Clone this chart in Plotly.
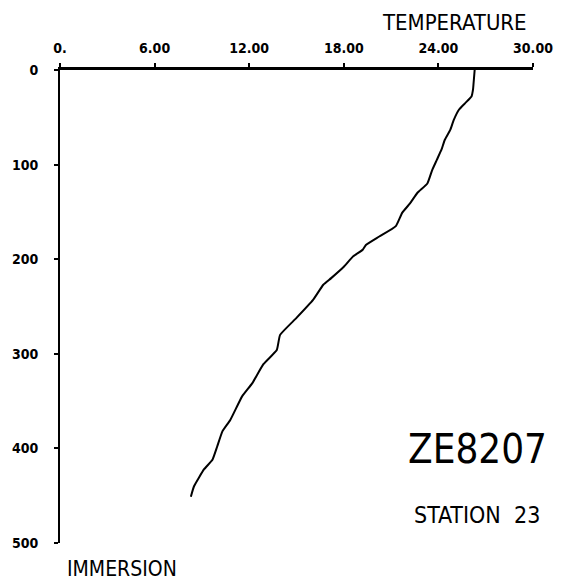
import plotly.graph_objects as go

# Temperature profile, station 23 (cruise ZE8207)
depth = [0, 10, 20, 25, 28, 35, 42, 53, 63, 74, 84, 95, 106, 120, 130, 141, 151,
         165, 176, 185, 190, 197, 208, 220, 227, 243, 262, 280, 296, 311, 331,
         345, 370, 382, 398, 412, 422, 440, 451]
temperature = [26.3, 26.25, 26.2, 26.15, 26.1, 25.7, 25.3, 24.97, 24.76, 24.4,
               24.2, 23.9, 23.6, 23.3, 22.66, 22.2, 21.7, 21.3, 20.25, 19.4, 19.2,
               18.6, 18.0, 17.2, 16.7, 16.05, 15.0, 13.96, 13.75, 12.9, 12.2,
               11.55, 10.8, 10.3, 9.97, 9.67, 9.14, 8.5, 8.3]

temp_ticks = [0, 6, 12, 18, 24, 30]
temp_tick_labels = ["0.", "6.00", "12.00", "18.00", "24.00", "30.00"]
depth_ticks = [0, 100, 200, 300, 400, 500]
depth_tick_labels = ["0", "100", "200", "300", "400", "500"]

COND = "DejaVu Sans Condensed, DejaVu Sans, sans-serif"
TICKFONT = dict(family=COND, size=14, color="black", weight="bold")

fig = go.Figure()
fig.add_trace(go.Scatter(
    x=temperature, y=depth, mode="lines",
    line=dict(color="black", width=2, shape="spline", smoothing=0.4),
    hoverinfo="skip", showlegend=False,
))

fig.update_layout(
    width=565, height=585,
    margin=dict(l=58, r=30, t=70, b=42),
    paper_bgcolor="white", plot_bgcolor="white",
    xaxis=dict(
        side="top", range=[0, 30], tickvals=temp_ticks, ticktext=temp_tick_labels,
        showgrid=False, zeroline=False, showline=True, linecolor="black", linewidth=2.5,
        ticks="outside", ticklen=4, tickwidth=1.5, tickcolor="black",
        tickfont=TICKFONT, ticklabelstandoff=5,
    ),
    yaxis=dict(
        range=[500, 0], tickvals=depth_ticks, ticktext=depth_tick_labels,
        showgrid=False, zeroline=False, showline=True, linecolor="black", linewidth=2,
        ticks="outside", ticklen=4, tickwidth=1.5, tickcolor="black",
        tickfont=TICKFONT, ticklabelstandoff=13,
    ),
    annotations=[
        dict(text="TEMPERATURE", xref="paper", yref="paper", x=0.834, y=1.101,
             xanchor="center", yanchor="middle", showarrow=False,
             font=dict(family=COND, size=22, color="black")),
        dict(text="IMMERSION", xref="paper", yref="paper", x=0.0105, y=-0.056,
             xanchor="left", yanchor="middle", showarrow=False,
             font=dict(family=COND, size=21, color="black")),
        dict(text="ZE8207", xref="paper", yref="paper", x=0.882, y=0.199,
             xanchor="center", yanchor="middle", showarrow=False,
             font=dict(family=COND, size=40, color="black")),
        dict(text="STATION&nbsp;&nbsp;23", xref="paper", yref="paper", x=0.882, y=0.059,
             xanchor="center", yanchor="middle", showarrow=False,
             font=dict(family=COND, size=23, color="black")),
    ],
)

fig.write_html("out.html")
